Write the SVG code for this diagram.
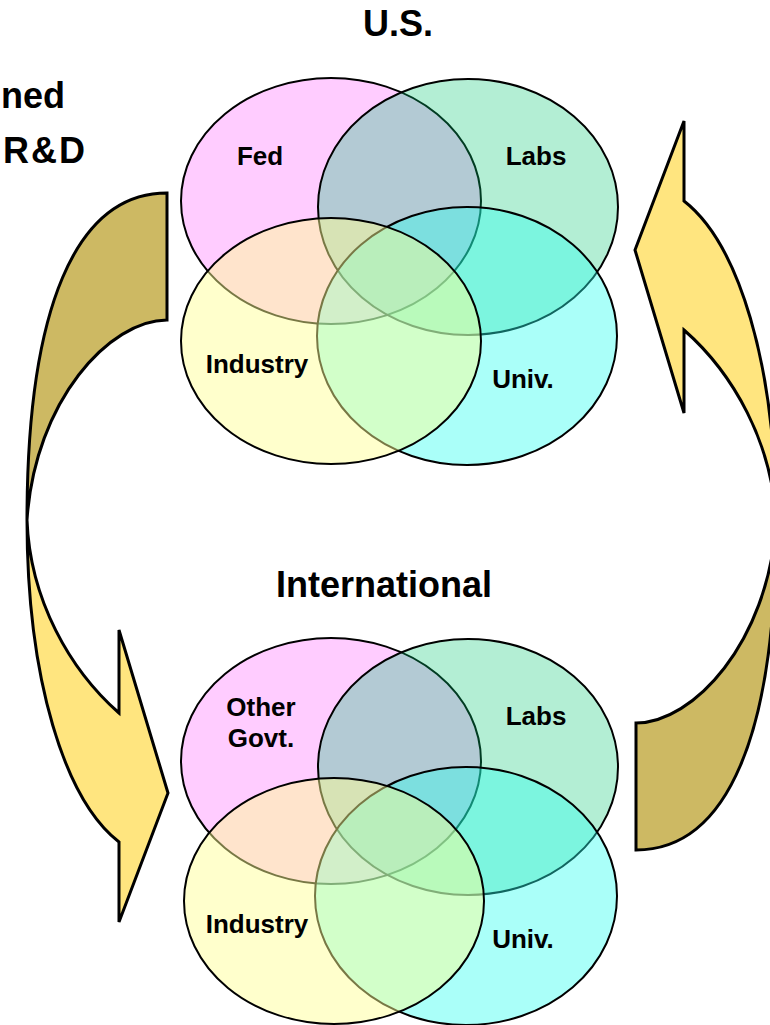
<svg xmlns="http://www.w3.org/2000/svg" width="770" height="1025" viewBox="0 0 770 1025">
<style>
text{font-family:"Liberation Sans",Arial,sans-serif;font-weight:bold;fill:#000}
.title{font-size:36px;text-anchor:middle}
.side{font-size:36px}
.lbl{font-size:26px;text-anchor:middle}
.el{stroke:#000;stroke-width:2}
.fed{fill:#FFCCFF}
.labs{fill:rgb(2,198,112);fill-opacity:0.3}
.univ{fill:rgb(42,255,240);fill-opacity:0.4}
.ind{fill:rgb(255,255,147);fill-opacity:0.47}
.back{fill:#CDB963;stroke:#000;stroke-width:3;stroke-linejoin:miter}
.front{fill:#FFE57F;stroke:#000;stroke-width:3;stroke-linejoin:miter}
</style>
<defs>
<g id="arrow">
<path class="back" d="M167,193 L167,320 C110,320 35,400 27,520 C27,310 75,193 167,193 Z"/>
<path class="front" d="M27,520 C30,600 70,670 119,713 L119,630 L168,793 L119,922 L119,842 C65,800 27,680 27,520 Z"/>
</g>
</defs>
<g id="connectors">
<use href="#arrow"/>
<use href="#arrow" transform="rotate(180 401.5 521.5)"/>
</g>
<text class="side" x="1" y="108">ned</text>
<text class="side" x="3" y="163" letter-spacing="2">R&amp;D</text>
<g id="us">
<text class="title" x="398" y="36">U.S.</text>
<g id="us-fed"><ellipse class="el fed" cx="331" cy="201" rx="150" ry="123"/></g>
<g id="us-labs"><ellipse class="el labs" cx="468" cy="207" rx="150" ry="128"/></g>
<g id="us-univ"><ellipse class="el univ" cx="467" cy="336" rx="150" ry="129"/></g>
<g id="us-ind"><ellipse class="el ind" cx="331" cy="341" rx="150" ry="123"/></g>
<text class="lbl" x="260" y="165">Fed</text>
<text class="lbl" x="536" y="165">Labs</text>
<text class="lbl" x="257" y="373">Industry</text>
<text class="lbl" x="523" y="388">Univ.</text>
</g>
<g id="intl">
<text class="title" x="384" y="597">International</text>
<g id="intl-gov"><ellipse class="el fed" cx="331" cy="761" rx="150" ry="123"/></g>
<g id="intl-labs"><ellipse class="el labs" cx="468" cy="767" rx="150" ry="128"/></g>
<g id="intl-univ"><ellipse class="el univ" cx="466" cy="896" rx="151" ry="129"/></g>
<g id="intl-ind"><ellipse class="el ind" cx="334" cy="901" rx="150" ry="123"/></g>
<text class="lbl" x="261" y="716">Other</text>
<text class="lbl" x="261" y="747">Govt.</text>
<text class="lbl" x="536" y="725">Labs</text>
<text class="lbl" x="257" y="933">Industry</text>
<text class="lbl" x="523" y="948">Univ.</text>
</g>
</svg>
